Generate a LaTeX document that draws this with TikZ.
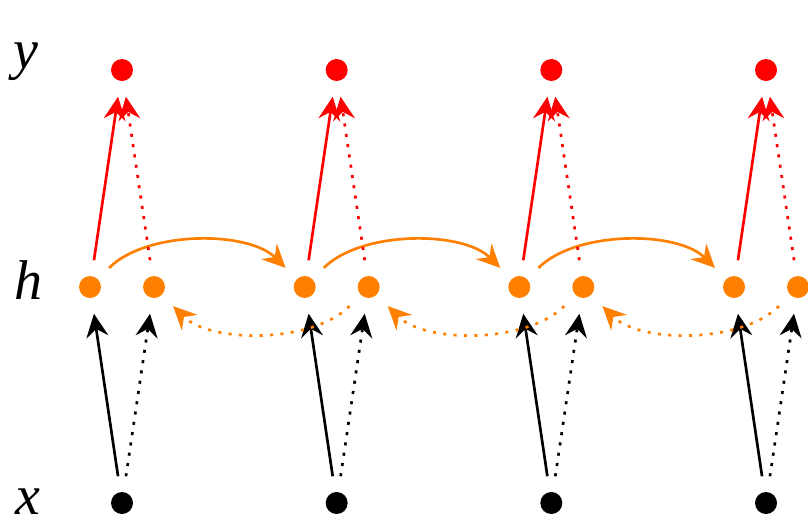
\documentclass[tikz,border=0pt]{standalone}
\usepackage{fontspec}
\newfontfamily\labfont{Liberation Serif}
\usetikzlibrary{arrows.meta}
\definecolor{myred}{RGB}{255,0,0}
\definecolor{myorange}{RGB}{255,128,0}
\tikzset{
  dot/.style={circle, inner sep=0pt, minimum size=16.5pt, outer sep=12pt},
  arr/.style={line width=2pt, -{Stealth[length=17.5pt, width=16.5pt, inset=6pt]}},
  dotline/.style={dash pattern=on 2.3pt off 5.5pt},
  lab/.style={anchor=base, inner sep=0pt, font=\labfont\itshape\fontsize{42}{42}\selectfont}
}
\begin{document}
\begin{tikzpicture}[x=0.75pt, y=-0.75pt]
\useasboundingbox (0,0) rectangle (808,526);
\node[lab] (ly) at (26,68) {y};
\node[lab] (lh) at (28,299) {h};
\node[lab] (lx) at (28,514) {x};
\foreach \i in {0,...,3} {
  \pgfmathsetmacro\cx{122+214.67*\i}
  \node[dot, fill=myred] (y\i) at (\cx,70) {};
  \node[dot, fill=myorange] (f\i) at (\cx-32,287) {};
  \node[dot, fill=myorange] (b\i) at (\cx+32,287) {};
  \node[dot, fill=black] (x\i) at (\cx,503) {};
}
\foreach \i in {0,...,3} {
  \draw[arr, black] (x\i) -- (f\i);
  \draw[arr, black, dotline] (x\i) -- (b\i);
}
\foreach \i/\j in {0/1,1/2,2/3} {
  \draw[arr, myorange] (f\i) to[out=45, in=135, looseness=0.77] (f\j);
  \draw[arr, myorange, dotline] (b\j) to[out=225, in=-45, looseness=0.77] (b\i);
}
\foreach \i in {0,...,3} {
  \draw[arr, myred] (f\i) -- (y\i);
  \draw[arr, myred, dotline] (b\i) -- (y\i);
}
\end{tikzpicture}
\end{document}
